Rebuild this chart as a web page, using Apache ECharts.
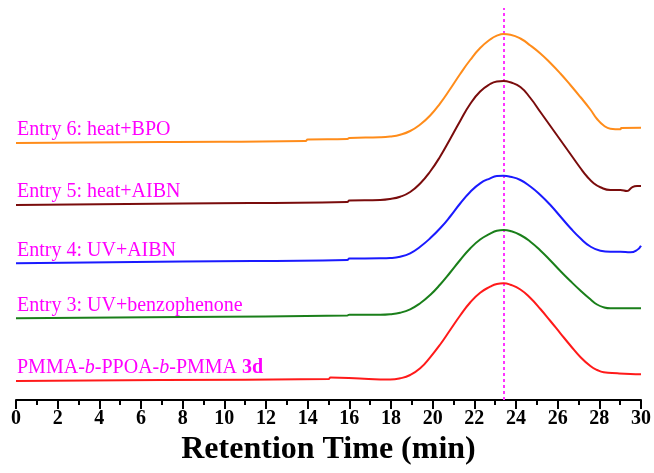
<!DOCTYPE html>
<html>
<head>
<meta charset="utf-8">
<script src="https://cdn.jsdelivr.net/npm/echarts@6/dist/echarts.min.js"></script>
<style>html,body{margin:0;padding:0;background:#fff}#c{width:654px;height:473px}</style>
</head>
<body>
<div id="c"></div>
<script>
// Retention time (min) vs detector signal (a.u., offset traces)
var xTicks = [0, 2, 4, 6, 8, 10, 12, 14, 16, 18, 20, 22, 24, 26, 28, 30];
var peakTime = 23.4;

var names = [
  'PMMA-b-PPOA-b-PMMA 3d',
  'Entry 3: UV+benzophenone',
  'Entry 4: UV+AIBN',
  'Entry 5: heat+AIBN',
  'Entry 6: heat+BPO'
];

var red = [[0,19],[7,20],[15,21],[15.1,22.5],[16.5,21.5],[17.48,20.5],[17.96,20.5],[18.44,21.7],[18.92,25],[19.4,31.7],[19.88,42.7],[20.36,55.5],[20.84,70],[21.32,84.5],[21.8,97.5],[22.28,107.3],[22.76,113.3],[23.08,116],[23.4,116.7],[23.73,115.3],[24.21,110.5],[24.69,102],[25.17,91],[25.65,79],[26.13,66.7],[26.61,54.5],[27.09,43],[27.57,34],[27.89,30],[28.21,27.7],[28.87,26.7],[29.49,26],[30,25.7]];
var green = [[0,81.7],[8,83],[15.9,84.5],[16,85.3],[17.48,85.3],[17.96,85.8],[18.44,87.3],[18.92,90.7],[19.4,96.7],[19.88,105],[20.36,115.5],[20.84,127.5],[21.32,140],[21.8,151.5],[22.28,160.5],[22.76,166.3],[23.08,169.2],[23.4,170],[23.73,169],[24.21,165],[24.69,158.3],[25.17,149.5],[25.65,139.5],[26.13,129],[26.61,119],[27.09,109.5],[27.57,100.7],[27.89,95.5],[28.21,92.7],[28.53,91.7],[30,91.7]];
var blue = [[0,136.7],[8,138.5],[15.9,140],[16,141.5],[17.48,141.7],[17.96,142],[18.44,143.3],[18.92,146.7],[19.4,153.3],[19.88,161.7],[20.36,171.7],[20.84,183.5],[21.32,196.5],[21.8,208],[22.28,216.7],[22.76,221.7],[23.08,224],[23.4,224.3],[23.73,223.3],[24.21,220],[24.69,213.5],[25.17,205],[25.65,195],[26.13,183.5],[26.61,172],[27.09,161.7],[27.57,153.5],[28.05,149.3],[28.53,148.3],[29.01,148.3],[29.49,147.7],[29.81,150],[30,154.3]];
var brown = [[0,195],[8,196.5],[15.9,198],[16,199.5],[17.48,200],[17.96,201],[18.44,203.3],[18.92,208],[19.4,216.5],[19.88,228.5],[20.36,243.5],[20.84,261],[21.32,279],[21.8,296],[22.28,308.5],[22.76,316],[23.08,318.5],[23.4,319],[23.73,317.7],[24.21,313],[24.69,302],[25.17,288],[25.65,274],[26.13,260],[26.61,246],[27.09,232],[27.41,223.5],[27.73,216.7],[28.05,212.7],[28.53,210],[29.01,210],[29.33,209],[29.57,212.7],[29.81,214],[30,214]];
var orange = [[0,257],[7,258],[13.9,259],[14,260.5],[15.9,261],[16,262],[17.48,262.7],[17.96,263.5],[18.44,265.3],[18.92,269],[19.4,275.5],[19.88,284.5],[20.36,296.7],[20.84,311],[21.32,326],[21.8,340],[22.28,352],[22.76,360.5],[23.08,364.3],[23.4,366],[23.73,365.3],[24.21,361.5],[24.69,354.5],[25.17,346.5],[25.65,337],[26.13,326.5],[26.61,315],[27.09,303],[27.57,290.5],[27.89,281],[28.21,274.5],[28.53,271.3],[29.01,270.7],[29.05,272],[30,272.3]];

var seriesData = [red, green, blue, brown, orange];
var colors = ['#ff1a1a', '#1a7f1a', '#1a1aff', '#7a0c0c', '#ff8c1a'];

var serif = '"Liberation Serif","Times New Roman",serif';

var series = seriesData.map(function (d, i) {
  var data = d.map(function (p, j) {
    if (j === 0) {
      return {
        value: p,
        symbol: 'circle',
        symbolSize: 0.01,
        label: {
          show: true,
          position: 'top',
          align: 'left',
          distance: 3,
          offset: [1, 0],
          fontFamily: serif,
          fontSize: 20,
          color: '#ff00ff',
          formatter: i === 0
            ? '{n|PMMA-}{i|b}{n|-PPOA-}{i|b}{n|-PMMA }{b|3d}'
            : names[i],
          rich: {
            n: {fontFamily: serif, fontSize: 20, color: '#ff00ff'},
            i: {fontFamily: serif, fontSize: 20, color: '#ff00ff', fontStyle: 'italic'},
            b: {fontFamily: serif, fontSize: 20, color: '#ff00ff', fontWeight: 'bold'}
          }
        }
      };
    }
    return p;
  });
  var s = {
    type: 'line',
    name: names[i],
    data: data,
    showSymbol: true,
    showAllSymbol: true,
    symbol: 'none',
    smooth: 0.5,
    lineStyle: {color: colors[i], width: 2},
    z: 3
  };
  if (i === 0) {
    s.markLine = {
      silent: true,
      symbol: 'none',
      label: {show: false},
      lineStyle: {color: '#ff33ff', type: [3, 3], width: 2},
      data: [{xAxis: peakTime}],
      z: 1
    };
  }
  return s;
});

var chart = echarts.init(document.getElementById('c'));
chart.setOption({
  animation: false,
  backgroundColor: '#fff',
  grid: {left: 16, right: 13, top: 8, bottom: 73, containLabel: false, outerBoundsMode: 'none'},
  xAxis: {
    type: 'value',
    min: 0, max: 30, interval: 2,
    name: 'Retention Time (min)',
    nameLocation: 'middle',
    nameGap: 33,
    nameTextStyle: {fontFamily: serif, fontSize: 32, fontWeight: 'bold', color: '#000'},
    axisLine: {show: true, lineStyle: {color: '#000', width: 2}},
    axisTick: {show: true, length: 9, lineStyle: {color: '#000', width: 2}},
    minorTick: {show: true, splitNumber: 2, length: 5, lineStyle: {color: '#000', width: 2}},
    axisLabel: {fontFamily: serif, fontSize: 20, fontWeight: 'bold', color: '#000', margin: 9,
      formatter: function (v) { return xTicks.indexOf(v) >= 0 ? String(v) : ''; }},
    splitLine: {show: false}
  },
  yAxis: {
    type: 'value', min: 0, max: 392,
    show: false,
    splitLine: {show: false}
  },
  series: series
});
</script>
</body>
</html>
